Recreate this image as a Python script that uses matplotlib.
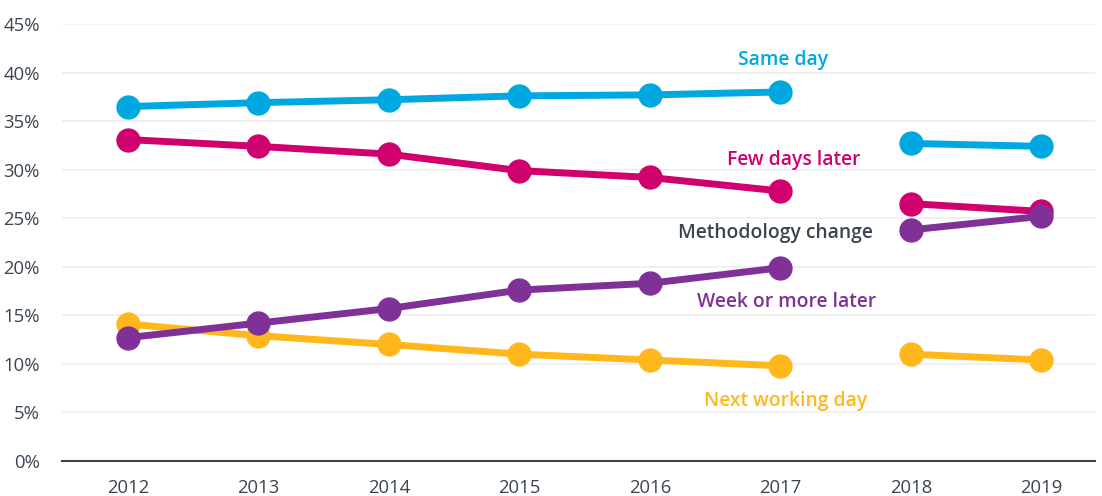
import numpy as np
import matplotlib.pyplot as plt

plt.rcParams['font.family'] = ['Open Sans', 'DejaVu Sans']

years = ['2012', '2013', '2014', '2015', '2016', '2017', '2018', '2019']
same_day = [36.5, 36.9, 37.2, 37.6, 37.7, 38.0, 32.7, 32.4]
few_days_later = [33.1, 32.4, 31.6, 29.9, 29.2, 27.8, 26.5, 25.7]
week_or_more = [12.7, 14.2, 15.7, 17.6, 18.3, 19.9, 23.8, 25.2]
next_working_day = [14.1, 12.9, 12.0, 11.0, 10.4, 9.8, 11.0, 10.4]

series = [
    ('Next working day', next_working_day, '#FFB71B', (5.04, 6.2)),
    ('Few days later', few_days_later, '#D1006F', (5.1, 31.0)),
    ('Same day', same_day, '#00A8E1', (5.02, 41.3)),
    ('Week or more later', week_or_more, '#7F3197', (5.05, 16.35)),
]

fig = plt.figure(figsize=(11.02, 4.96), dpi=100)
ax = fig.add_axes([62 / 1102, 35 / 496, 1033 / 1102, 437 / 496])

x = np.arange(len(years))
for name, vals, color, (lx, ly) in series:
    vals = np.array(vals)
    # 2012-2017 and 2018-2019 are separate because of the methodology change
    for sl in (slice(0, 6), slice(6, 8)):
        ax.plot(x[sl], vals[sl], color=color, lw=5, marker='o', ms=16.5,
                solid_capstyle='round', zorder=3)
    ax.text(lx, ly, name, color=color, fontsize=13.9, fontweight='semibold',
            ha='center', va='center')

ax.text(4.96, 23.45, 'Methodology change', color='#3A4550', fontsize=13.9,
        fontweight='semibold', ha='center', va='center')

ax.set_xlim(-0.505, 7.41)
ax.set_ylim(0, 45)
ax.set_yticks(np.arange(0, 46, 5))
ax.set_yticklabels([f'{v}%' for v in range(0, 46, 5)])
ax.set_xticks(x)
ax.set_xticklabels(years)
ax.grid(axis='y', color='#EEEEEE', lw=1.2)
ax.set_axisbelow(True)
for s in ('top', 'right', 'left'):
    ax.spines[s].set_visible(False)
ax.spines['bottom'].set_color('#3A4550')
ax.spines['bottom'].set_linewidth(1.5)
ax.tick_params(length=0, labelsize=13.3, colors='#3A4550')
ax.tick_params(axis='x', pad=13)
ax.tick_params(axis='y', pad=16)

fig.savefig('out.png', dpi=100)
